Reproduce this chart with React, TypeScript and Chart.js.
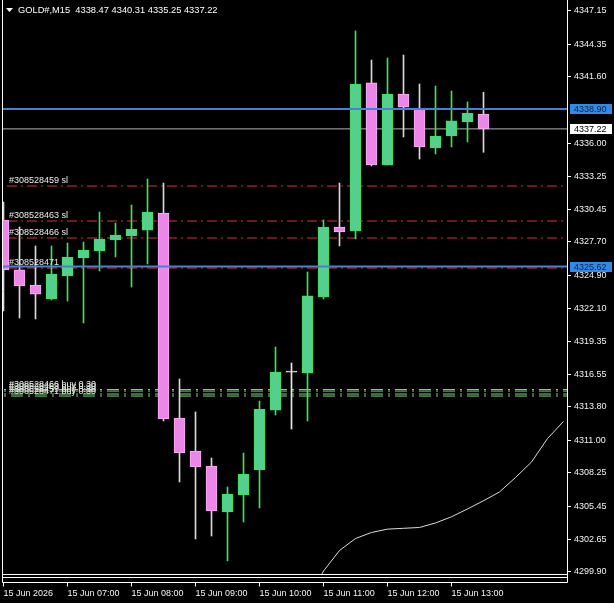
import React, { useEffect, useRef } from "react";
import { Chart, registerables } from "chart.js";

Chart.register(...registerables);

const FONT = "'Liberation Sans', Arial, sans-serif";

// ---- data (GOLD#, M15, 15 Jun 2026 06:00 .. 13:30) ----
const opens = [4329.55, 4325.34, 4324.07, 4322.89, 4324.83, 4326.35, 4326.94, 4327.86, 4328.20, 4328.70, 4330.14, 4312.87, 4310.09, 4308.83, 4304.95, 4306.39, 4308.49, 4313.54, 4316.74, 4316.66, 4323.06, 4328.96, 4328.62, 4341.09, 4334.18, 4340.16, 4338.98, 4335.61, 4336.62, 4337.80, 4338.47];
const highs = [4331.06, 4328.96, 4327.36, 4327.36, 4327.61, 4327.69, 4330.22, 4329.29, 4330.81, 4333.00, 4332.66, 4316.16, 4313.38, 4309.50, 4307.06, 4309.92, 4314.30, 4318.85, 4317.50, 4325.17, 4329.55, 4332.66, 4345.47, 4343.02, 4343.19, 4343.44, 4341.00, 4340.83, 4340.41, 4339.49, 4340.31];
const lows = [4321.88, 4321.29, 4321.21, 4322.81, 4322.72, 4320.87, 4325.25, 4326.43, 4323.90, 4325.84, 4312.62, 4307.48, 4302.68, 4302.93, 4300.83, 4304.11, 4305.29, 4313.12, 4311.94, 4312.62, 4322.89, 4327.36, 4327.95, 4334.10, 4334.18, 4336.54, 4334.68, 4335.11, 4335.70, 4336.12, 4335.25];
const closes = [4325.34, 4323.99, 4323.31, 4325.00, 4326.43, 4327.02, 4327.95, 4328.28, 4328.79, 4330.22, 4312.79, 4309.92, 4308.74, 4305.04, 4306.47, 4308.15, 4313.63, 4316.74, 4316.74, 4323.15, 4328.96, 4328.54, 4341.00, 4334.18, 4340.16, 4339.06, 4335.70, 4336.62, 4337.89, 4338.56, 4337.22];

// indicator line (bar index -> value)
const indicatorIndex = [19, 20, 21, 22, 23, 24, 25, 26, 27, 28, 29, 30, 31, 32, 33, 34, 35];
const indicatorValues = [4297.54, 4299.98, 4301.71, 4302.72, 4303.23, 4303.51, 4303.58, 4303.65, 4304.03, 4304.55, 4305.21, 4305.90, 4306.64, 4307.86, 4309.16, 4311.14, 4312.58];

// axis ticks
const xTickIndex = [0, 4, 8, 12, 16, 20, 24, 28];
const xTickLabels = ["15 Jun 2026", "15 Jun 07:00", "15 Jun 08:00", "15 Jun 09:00", "15 Jun 10:00", "15 Jun 11:00", "15 Jun 12:00", "15 Jun 13:00"];
const yTicks = [4347.15, 4344.35, 4341.60, 4336.00, 4333.25, 4330.45, 4327.70, 4324.90, 4322.10, 4319.35, 4316.55, 4313.80, 4311.00, 4308.25, 4305.45, 4302.65, 4299.90];

// horizontal levels
const bluePrices = [4338.90, 4325.62];
const bidPrice = 4337.22;
const slPrices = [4332.41, 4329.46, 4328.03, 4325.50];
const slLabels = ["#308528459 sl", "#308528463 sl", "#308528466 sl", "#308528471"];
const buyPrices = [4315.27, 4315.14, 4314.89, 4314.72];
const buyLabels = ["#308528466 buy 0.30", "#308528463 buy 0.30", "#308528459 buy 0.30", "#308528471 buy 0.30"];
const titleText = "GOLD#,M15  4338.47 4340.31 4335.25 4337.22";

const X_MIN = -0.03125;
const X_MAX = 35.21875;
const Y_MAX = 4347.992;
const Y_MIN = 4299.731;

const BULL_FILL = "#56cf8e";
const BULL_EDGE = "#3fe05c";
const BEAR_FILL = "#ec86e8";
const BEAR_EDGE = "#f6b2f2";
const BULL_WICK = "#44dd55";
const BEAR_WICK = "#d8d8d8";
const DOJI = "#e8e8e8";
const BLUE = "#4a80d2";
const RED = "#d8303e";
const GREEN = "#78d878";

export default function App() {
  const ref = useRef<HTMLCanvasElement>(null);

  useEffect(() => {
    document.body.style.margin = "0";
    document.body.style.background = "#000";
    const idx = opens.map((_, i) => i);
    const dir = idx.map((i) => (closes[i] > opens[i] ? 1 : closes[i] < opens[i] ? -1 : 0));

    const hline = (y: number, color: string, width: number, dash: number[], order: number) => ({
      type: "line" as const,
      data: [{ x: X_MIN - 1, y }, { x: X_MAX + 1, y }],
      borderColor: color,
      borderWidth: width,
      borderDash: dash,
      pointRadius: 0,
      tension: 0,
      order,
    });

    const overlay = {
      id: "mtOverlay",
      afterDraw(chart: any) {
        const ctx = chart.ctx as CanvasRenderingContext2D;
        const ca = chart.chartArea;
        const xs = chart.scales.x;
        const ys = chart.scales.y;
        ctx.save();
        // frame
        ctx.strokeStyle = "#ffffff";
        ctx.lineWidth = 1;
        const L = ca.left - 0.5;
        const R = ca.right + 0.5;
        const B = ca.bottom + 0.5;
        ctx.beginPath();
        ctx.moveTo(L, 0); ctx.lineTo(L, B + 8);
        ctx.moveTo(R, 0); ctx.lineTo(R, B + 8);
        ctx.moveTo(L, B); ctx.lineTo(R, B);
        ctx.moveTo(L, B + 3); ctx.lineTo(R, B + 3);
        ctx.moveTo(L, B + 8); ctx.lineTo(R, B + 8);
        xTickIndex.forEach((t) => {
          const px = Math.floor(xs.getPixelForValue(t)) + 0.5;
          ctx.moveTo(px, B + 8); ctx.lineTo(px, B + 12);
        });
        ctx.stroke();

        // title
        ctx.fillStyle = "#ffffff";
        ctx.beginPath();
        ctx.moveTo(6, 8); ctx.lineTo(13, 8); ctx.lineTo(9.5, 12); ctx.closePath();
        ctx.fill();
        ctx.font = `9.3px ${FONT}`;
        ctx.textBaseline = "middle";
        ctx.textAlign = "left";
        ctx.fillText(titleText, 18, 10.5);

        // order labels
        ctx.font = `9px ${FONT}`;
        ctx.fillStyle = "#ececec";
        slPrices.forEach((p, i) => {
          const y = ys.getPixelForValue(p);
          ctx.fillText(slLabels[i], 9, y - 5.5);
        });
        ctx.fillStyle = "#dfe8dc";
        buyPrices.forEach((p, i) => {
          const y = ys.getPixelForValue(p);
          ctx.fillText(buyLabels[i], 9, y - 5);
        });

        // price boxes on the axis
        const box = (p: number, bg: string, fg: string) => {
          const y = Math.round(ys.getPixelForValue(p));
          ctx.fillStyle = bg;
          ctx.fillRect(ca.right + 3, y - 5, 42, 10);
          ctx.fillStyle = fg;
          ctx.fillText(p.toFixed(2), ca.right + 7, y + 0.5);
        };
        box(bluePrices[0], "#3289e6", "#0a2448");
        box(bidPrice, "#ffffff", "#000000");
        box(bluePrices[1], "#3289e6", "#0a2448");
        ctx.restore();
      },
    };

    const chart = new Chart(ref.current as HTMLCanvasElement, {
      type: "bar",
      data: {
        datasets: [
          ...bluePrices.map((p) => hline(p, BLUE, 2, [], 0)),
          {
            type: "bar",
            data: idx.map((i) => ({ x: i, y: [opens[i], closes[i]] })),
            backgroundColor: dir.map((d) => (d > 0 ? BULL_FILL : d < 0 ? BEAR_FILL : DOJI)),
            borderColor: dir.map((d) => (d > 0 ? BULL_EDGE : d < 0 ? BEAR_EDGE : DOJI)),
            borderWidth: 1,
            borderSkipped: false,
            barThickness: 11,
            minBarLength: 1,
            grouped: false,
            order: 1,
          } as any,
          {
            type: "bar",
            data: idx.map((i) => ({ x: i, y: [lows[i], highs[i]] })),
            backgroundColor: dir.map((d) => (d > 0 ? BULL_WICK : d < 0 ? BEAR_WICK : DOJI)),
            borderWidth: 0,
            barThickness: 1,
            grouped: false,
            order: 2,
          } as any,
          hline(bidPrice, "#b4b4b4", 1, [], 3),
          ...slPrices.map((p) => hline(p, RED, 1, [10, 4, 2, 4], 3)),
          ...buyPrices.map((p) => hline(p, GREEN, 1, [12, 5, 2, 5], 3)),
          {
            type: "line",
            data: indicatorIndex.map((x, i) => ({ x, y: indicatorValues[i] })),
            borderColor: "#d6ded6",
            borderWidth: 1,
            pointRadius: 0,
            tension: 0,
            order: 3,
          } as any,
        ] as any,
      },
      options: {
        animation: false,
        responsive: false,
        devicePixelRatio: 1,
        events: [],
        layout: { padding: { left: 3, top: 1, right: 0, bottom: 0 } },
        plugins: { legend: { display: false }, tooltip: { enabled: false } },
        scales: {
          x: {
            type: "linear",
            min: X_MIN,
            max: X_MAX,
            offset: false,
            grid: { display: false },
            border: { display: false },
            afterFit: (s: any) => { s.height = 29; s.paddingLeft = 0; s.paddingRight = 0; },
            afterBuildTicks: (s: any) => { s.ticks = xTickIndex.map((v) => ({ value: v })); },
            ticks: {
              autoSkip: false,
              maxRotation: 0,
              minRotation: 0,
              align: "start",
              padding: 6,
              color: "#f4f4f4",
              font: { family: FONT, size: 9 },
              callback: (v: any) => {
                const k = xTickIndex.indexOf(Number(v));
                return k >= 0 ? xTickLabels[k] : "";
              },
            },
          },
          y: {
            type: "linear",
            position: "right",
            min: Y_MIN,
            max: Y_MAX,
            grid: { display: true, drawOnChartArea: false, drawTicks: true, tickLength: 4, color: "#ffffff" },
            border: { display: true, color: "#ffffff" },
            afterFit: (s: any) => { s.width = 47; s.paddingTop = 0; s.paddingBottom = 0; },
            afterBuildTicks: (s: any) => { s.ticks = yTicks.map((v) => ({ value: v })); },
            ticks: {
              autoSkip: false,
              padding: 3,
              color: "#f4f4f4",
              font: { family: FONT, size: 9 },
              callback: (v: any) => Number(v).toFixed(2),
            },
          },
        },
      } as any,
      plugins: [overlay],
    });
    return () => chart.destroy();
  }, []);

  return (
    <div style={{ width: 614, height: 603, background: "#000" }}>
      <canvas ref={ref} width={614} height={603} style={{ display: "block", width: 614, height: 603 }} />
    </div>
  );
}
